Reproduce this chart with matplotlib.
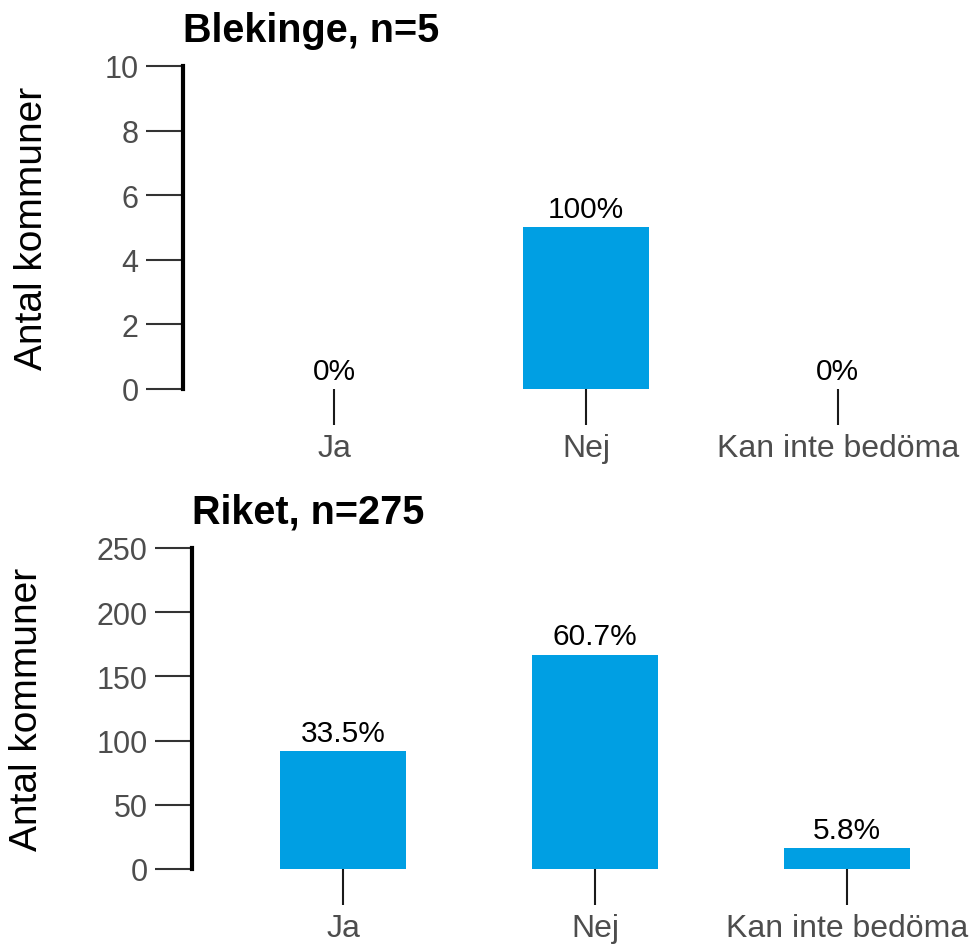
import matplotlib.pyplot as plt

plt.rcParams['font.family'] = ['Liberation Sans', 'DejaVu Sans']

categories = ["Ja", "Nej", "Kan inte bedöma"]

blekinge_counts = [0, 5, 0]
blekinge_pct = ["0%", "100%", "0%"]

riket_counts = [92, 167, 16]
riket_pct = ["33.5%", "60.7%", "5.8%"]

bar_color = "#009FE3"

fig = plt.figure(figsize=(9.7, 9.45), dpi=100)

panels = [
    # title, counts, labels, yticks, axes rect, ylabel x
    ("Blekinge, n=5", blekinge_counts, blekinge_pct, [0, 2, 4, 6, 8, 10],
     [183 / 970, 1 - 390 / 945, 806 / 970, 323 / 945], -0.165),
    ("Riket, n=275", riket_counts, riket_pct, [0, 50, 100, 150, 200, 250],
     [192 / 970, 1 - 870 / 945, 806 / 970, 321 / 945], -0.183),
]

for title, counts, pcts, yticks, rect, ylab_x in panels:
    ax = fig.add_axes(rect)
    x = range(1, len(categories) + 1)
    bars = ax.bar(x, counts, width=0.5, color=bar_color)
    for b, p in zip(bars, pcts):
        ax.annotate(p, (b.get_x() + b.get_width() / 2, b.get_height()),
                    xytext=(0, 3), textcoords="offset points",
                    ha="center", va="bottom", fontsize=21.5, color="black")
    ax.set_xlim(0.4, 3.6)
    ax.set_ylim(yticks[0], yticks[-1])
    ax.set_xticks(list(x))
    ax.set_xticklabels(categories)
    ax.set_yticks(yticks)
    for s in ["top", "right", "bottom"]:
        ax.spines[s].set_visible(False)
    ax.spines["left"].set_linewidth(3)
    ax.spines["left"].set_color("black")
    ax.tick_params(axis="y", length=27, width=1.5, color="#333333",
                   labelcolor="#4D4D4D", labelsize=22, pad=5)
    ax.tick_params(axis="x", length=26, width=1.5, color="#1a1a1a",
                   labelcolor="#4D4D4D", labelsize=23, pad=6)
    ax.set_ylabel("Antal kommuner", fontsize=28, color="black")
    ax.yaxis.set_label_coords(ylab_x, 0.5)
    ax.set_title(title, loc="left", fontsize=28.5, fontweight="bold", pad=18)
    ax.patch.set_visible(False)

fig.savefig("out.png", dpi=100)
